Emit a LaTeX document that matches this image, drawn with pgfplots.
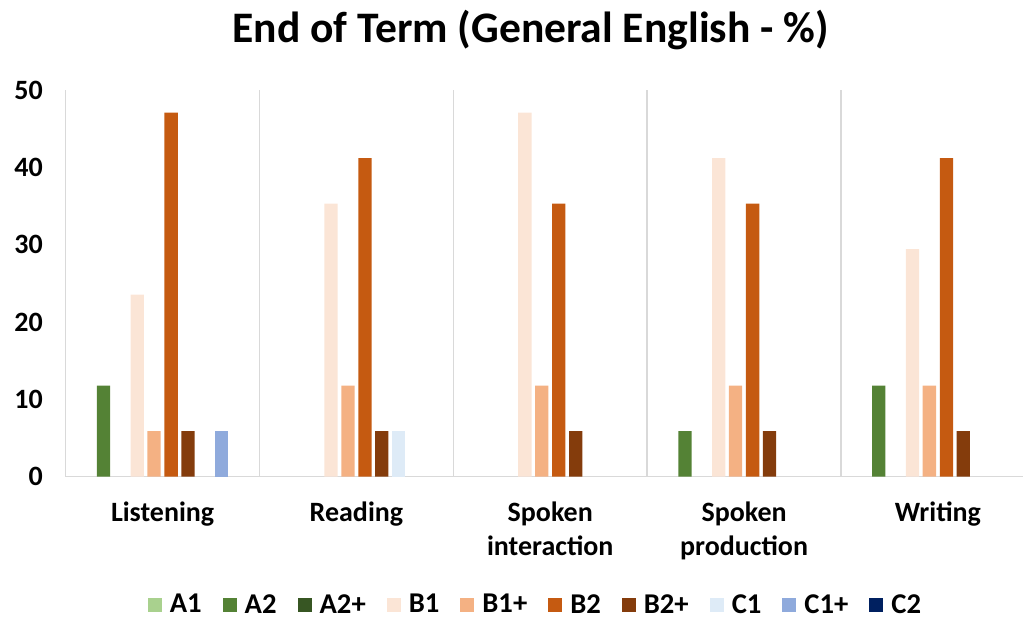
\documentclass[border=0pt]{standalone}
\usepackage{fontspec}
\setmainfont{Carlito}
\usepackage{pgfplots}
\pgfplotsset{compat=1.18}
\definecolor{cA1}{HTML}{A9D18E}
\definecolor{cA2}{HTML}{548235}
\definecolor{cA2p}{HTML}{375623}
\definecolor{cB1}{HTML}{FBE5D6}
\definecolor{cB1p}{HTML}{F4B183}
\definecolor{cB2}{HTML}{C55A11}
\definecolor{cB2p}{HTML}{843C0C}
\definecolor{cC1}{HTML}{DEEBF7}
\definecolor{cC1p}{HTML}{8FAADC}
\definecolor{cC2}{HTML}{002060}
\definecolor{gridgray}{HTML}{D9D9D9}
\begin{document}
\begin{tikzpicture}
\begin{axis}[
  at={(0,0)}, anchor=south west,
  scale only axis, width=718.7pt, height=290.25pt,
  xmin=-0.5, xmax=4.44, ymin=0, ymax=50,
  axis x line*=bottom, axis y line*=left,
  axis line style={draw=gridgray, line width=1.2pt},
  xtick={0,1,2,3,4},
  xticklabels={Listening, Reading, {Spoken\\interaction}, {Spoken\\production}, Writing},
  xticklabel style={align=center, anchor=north, inner sep=0pt, yshift=-19pt, font=\fontsize{21}{25}\selectfont\bfseries},
  ytick={0,10,20,30,40,50},
  yticklabel style={anchor=east, inner sep=0pt, xshift=-17pt, font=\fontsize{21}{25}\selectfont\bfseries},
  /pgf/number format/assume math mode=true,
  major tick length=0pt,
  tick style={draw=none},
  extra x ticks={0.5,1.5,2.5,3.5},
  extra x tick labels={},
  extra x tick style={grid=major, major grid style={draw=gridgray, line width=1.2pt}},
  ybar, bar width=0.0686,
  legend columns=10,
  legend style={draw=none, at={(axis description cs:0.491,-0.331)}, anchor=center,
    font=\fontsize{21.5}{25}\selectfont\bfseries,
    /tikz/every even column/.append style={column sep=13.8pt}},
  legend image code/.code={\fill[#1] (0pt,-5.25pt) rectangle (10.5pt,5.25pt); \path (14.5pt,0pt);},
]
\addplot[fill=cA1, draw=none, bar shift=-0.392] coordinates {(10,1)};
\addplot[fill=cA2, draw=none, bar shift=-0.305] coordinates {(0,11.76) (3,5.88) (4,11.76)};
\addplot[fill=cA2p, draw=none, bar shift=-0.218] coordinates {(10,1)};
\addplot[fill=cB1, draw=none, bar shift=-0.131] coordinates {(0,23.53) (1,35.29) (2,47.06) (3,41.18) (4,29.41)};
\addplot[fill=cB1p, draw=none, bar shift=-0.044] coordinates {(0,5.88) (1,11.76) (2,11.76) (3,11.76) (4,11.76)};
\addplot[fill=cB2, draw=none, bar shift=0.044] coordinates {(0,47.06) (1,41.18) (2,35.29) (3,35.29) (4,41.18)};
\addplot[fill=cB2p, draw=none, bar shift=0.131] coordinates {(0,5.88) (1,5.88) (2,5.88) (3,5.88) (4,5.88)};
\addplot[fill=cC1, draw=none, bar shift=0.218] coordinates {(1,5.88)};
\addplot[fill=cC1p, draw=none, bar shift=0.305] coordinates {(0,5.88)};
\addplot[fill=cC2, draw=none, bar shift=0.392] coordinates {(10,1)};
\legend{A1,A2,A2+,B1,B1+,B2,B2+,C1,C1+,C2}
\end{axis}
\node[anchor=base, font=\fontsize{32.7}{38}\selectfont\bfseries] at (349pt,325.5pt) {End of Term (General English - \%)};
\path[use as bounding box] (-49.3pt,-111pt) rectangle (718.7pt,357.75pt);
\end{tikzpicture}
\end{document}
